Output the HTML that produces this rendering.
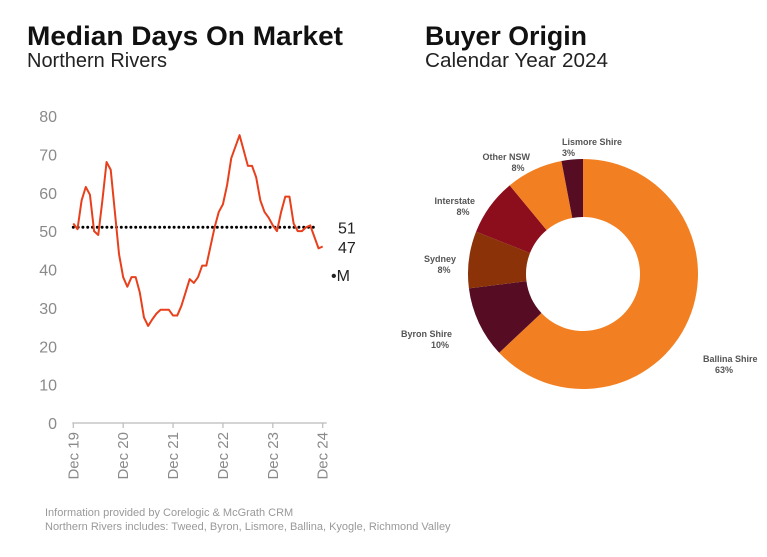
<!DOCTYPE html>
<html><head><meta charset="utf-8"><style>
html,body{margin:0;padding:0;background:#fff;}
svg{display:block;font-family:"Liberation Sans",sans-serif;}
</style></head><body>
<svg id="root" width="767" height="557" viewBox="0 0 767 557">
<text x="27" y="45" font-size="27" font-weight="bold" fill="#111" textLength="316" lengthAdjust="spacingAndGlyphs">Median Days On Market</text>
<text x="27" y="67" font-size="20" fill="#222" textLength="140" lengthAdjust="spacingAndGlyphs">Northern Rivers</text>
<text x="425" y="45" font-size="27" font-weight="bold" fill="#111" textLength="162" lengthAdjust="spacingAndGlyphs">Buyer Origin</text>
<text x="425" y="67" font-size="20" fill="#222" textLength="183" lengthAdjust="spacingAndGlyphs">Calendar Year 2024</text>
<g id="line"></g>
<g id="donut"></g>
<text x="45" y="516" font-size="11" fill="#999">Information provided by Corelogic &amp; McGrath CRM</text>
<text x="45" y="530" font-size="11" fill="#999">Northern Rivers includes: Tweed, Byron, Lismore, Ballina, Kyogle, Richmond Valley</text>
</svg>
<script>
const yTicks=[0,10,20,30,40,50,60,70,80];
const xTickLabels=["Dec 19","Dec 20","Dec 21","Dec 22","Dec 23","Dec 24"];
const daysValues=[52,50.5,58,61.5,59.5,50,49,58,68,66,55,44,38,35.5,38,38,34,27.5,25.3,27,28.5,29.5,29.5,29.5,28,28,30.5,34,37.5,36.5,38,41,41,46,51,55,57,62,69,72,75,71,67,67,64,58,55,53.5,51.5,50,55,59,59,52,50,50,51,51.5,48.5,45.5,46];
const medianValue=51;
const latestLabel="47";
const originLabels=["Ballina Shire","Byron Shire","Sydney","Interstate","Other NSW","Lismore Shire"];
const originValues=[63,10,8,8,8,3];
const NS="http://www.w3.org/2000/svg";
function mk(p,t,a){const e=document.createElementNS(NS,t);for(const k in a)e.setAttribute(k,a[k]);p.appendChild(e);return e;}
const L=document.getElementById('line');
const x0=73.3,x1=322.7,y0=423,yTop=116;
const yS=v=>y0-(v/80)*(y0-yTop);
const xS=i=>x0+(x1-x0)*i/60;
yTicks.forEach(v=>{const t=mk(L,'text',{x:57,y:yS(v)+6,'font-size':16,fill:'#8a8a8a','text-anchor':'end'});t.textContent=v;

});
const ax=mk(L,'line',{x1:x0-1,x2:x1+4,y1:y0,y2:y0,stroke:'#bbb','stroke-width':1.2});


xTickLabels.forEach((s,i)=>{const x=xS(i*12);
const tk=mk(L,'line',{x1:x,x2:x,y1:y0,y2:y0+5,stroke:'#bbb','stroke-width':1.2});


const t=mk(L,'text',{x:0,y:0,'font-size':15,fill:'#8a8a8a','text-anchor':'end',transform:`translate(${x+5},${y0+9}) rotate(-90)`});t.textContent=s;

});
const med=mk(L,'line',{x1:x0,x2:xS(58.5),y1:yS(medianValue),y2:yS(medianValue),stroke:'#000','stroke-width':3,'stroke-dasharray':'0 4.8','stroke-linecap':'round'});


const pl=mk(L,'polyline',{points:daysValues.map((v,i)=>xS(i)+','+yS(v)).join(' '),fill:'none',stroke:'#e8401c','stroke-width':2,'stroke-linejoin':'round'});


const l1=mk(L,'text',{x:338,y:yS(medianValue)+6,'font-size':16,fill:'#222'});l1.textContent=medianValue;


const l2=mk(L,'text',{x:338,y:253,'font-size':16,fill:'#222'});l2.textContent=latestLabel;


const l3=mk(L,'text',{x:331,y:281,'font-size':16,fill:'#222'});l3.textContent="•M";


const D=document.getElementById('donut');
const cx=583,cy=274,R=115,r=57;
const cols=["#f28023","#560d24","#8b3208","#8c0d1c","#f28023","#560d24"];
const lab=[[703,362,'start'],[452,337,'end'],[456,262,'end'],[475,204,'end'],[530,160,'end'],[562,145,'start']];
const tot=originValues.reduce((a,b)=>a+b,0);let a=0;
originValues.forEach((v,i)=>{const a1=a+v/tot*2*Math.PI;
const p=(ang,rr)=>[cx+rr*Math.sin(ang),cy-rr*Math.cos(ang)];
const [ax1,ay1]=p(a,R),[ax2,ay2]=p(a1,R),[bx2,by2]=p(a1,r),[bx1,by1]=p(a,r);const lg=(a1-a)>Math.PI?1:0;
const s=mk(D,'path',{d:`M${ax1},${ay1}A${R},${R} 0 ${lg} 1 ${ax2},${ay2}L${bx2},${by2}A${r},${r} 0 ${lg} 0 ${bx1},${by1}Z`,fill:cols[i]});


a=a1;
const [lx,ly,an]=lab[i];
const t=mk(D,'text',{x:lx,y:ly,'font-size':9,'font-weight':'bold',fill:'#555','text-anchor':an});t.textContent=originLabels[i];


const ax2_=an==='start'?lx+ (i===0?12:0):lx-12;
const t2=mk(D,'text',{x:ax2_,y:ly+11,'font-size':9,'font-weight':'bold',fill:'#555','text-anchor':an==='start'?'start':'middle'});t2.textContent=v+'%';

});
</script>
</body></html>
